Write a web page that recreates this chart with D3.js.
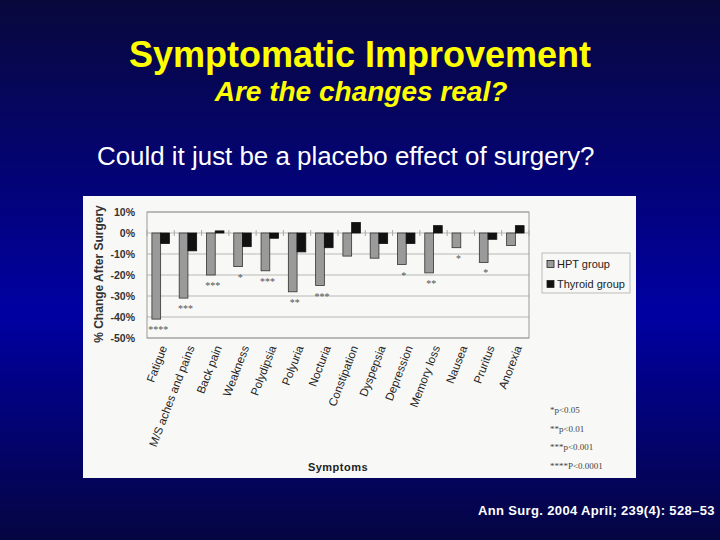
<!DOCTYPE html>
<html>
<head>
<meta charset="utf-8">
<script src="https://cdn.jsdelivr.net/npm/d3@7"></script>
<style>
  body { margin: 0; padding: 0; }
  svg { display: block; }
</style>
</head>
<body>
<div id="chart"></div>
<script>
// data
var categories = ["Fatigue", "M/S aches and pains", "Back pain", "Weakness", "Polydipsia",
    "Polyuria", "Nocturia", "Constipation", "Dyspepsia", "Depression", "Memory loss",
    "Nausea", "Pruritus", "Anorexia"];
var hptValues = [-41, -31, -20, -16, -18, -28, -25, -11, -12, -15, -19, -7, -14, -6];
var thyroidValues = [-5, -8.5, 1, -6.5, -2.5, -9, -7, 5, -5, -5, 3.5, 0, -3, 3.5];
var significance = ["****", "***", "***", "*", "***", "**", "***", "", "", "*", "**", "*", "*", ""];
var seriesNames = ["HPT group", "Thyroid group"];
var yTicks = [10, 0, -10, -20, -30, -40, -50];
var pNotes = ["*p<0.05", "**p<0.01", "***p<0.001", "****P<0.0001"];

function init() {
    var w = 720;
    var h = 540;

    var svg = d3.select("#chart")
        .append("svg")
        .attr("width", w)
        .attr("height", h);

    // slide background
    var defs = svg.append("defs");
    var grad = defs.append("linearGradient")
        .attr("id", "bg")
        .attr("x1", 0).attr("y1", 0).attr("x2", 0).attr("y2", 1);
    grad.append("stop").attr("offset", "0%").attr("stop-color", "#08083c");
    grad.append("stop").attr("offset", "58%").attr("stop-color", "#0000a2");
    grad.append("stop").attr("offset", "100%").attr("stop-color", "#050542");
    svg.append("rect")
        .attr("width", w).attr("height", h)
        .attr("fill", "url(#bg)");

    // headings
    svg.append("text")
        .text("Symptomatic Improvement")
        .attr("x", 360).attr("y", 67)
        .attr("text-anchor", "middle")
        .attr("font-family", "Liberation Sans, Arial, sans-serif")
        .attr("font-weight", "bold")
        .attr("font-size", 36)
        .attr("fill", "#ffff00");
    svg.append("text")
        .text("Are the changes real?")
        .attr("x", 361).attr("y", 101)
        .attr("text-anchor", "middle")
        .attr("font-family", "Liberation Sans, Arial, sans-serif")
        .attr("font-weight", "bold")
        .attr("font-style", "italic")
        .attr("font-size", 28)
        .attr("fill", "#ffff00");
    svg.append("text")
        .text("Could it just be a placebo effect of surgery?")
        .attr("x", 97).attr("y", 165)
        .attr("font-family", "Liberation Sans, Arial, sans-serif")
        .attr("font-size", 25.9)
        .attr("fill", "white");
    svg.append("text")
        .text("Ann Surg. 2004 April; 239(4): 528\u201353")
        .attr("x", 478).attr("y", 515)
        .attr("font-family", "Liberation Sans, Arial, sans-serif")
        .attr("font-weight", "bold")
        .attr("font-size", 13)
        .attr("letter-spacing", 0.35)
        .attr("fill", "white");

    // white chart panel
    svg.append("rect")
        .attr("x", 83).attr("y", 196)
        .attr("width", 553).attr("height", 282)
        .attr("fill", "#f8f8f6");

    var left = 147, right = 529, top = 212, bottom = 338;

    var x0 = d3.scaleBand()
        .domain(categories)
        .range([left, right])
        .paddingInner(0.36)
        .paddingOuter(0.18);
    var x1 = d3.scaleBand()
        .domain(seriesNames)
        .range([0, x0.bandwidth()]);
    var y = d3.scaleLinear()
        .domain([10, -50])
        .range([top, bottom]);

    // gridlines
    svg.selectAll("line.grid")
        .data(yTicks)
        .enter()
        .append("line")
        .attr("class", "grid")
        .attr("x1", left).attr("x2", right)
        .attr("y1", function (d) { return y(d); })
        .attr("y2", function (d) { return y(d); })
        .attr("stroke", "#b8b8b8")
        .attr("stroke-width", 1);
    svg.append("rect")
        .attr("x", left).attr("y", top)
        .attr("width", right - left).attr("height", bottom - top)
        .attr("fill", "none")
        .attr("stroke", "#999")
        .attr("stroke-width", 1);

    // category separators on the zero line
    var step = x0.step();
    svg.selectAll("line.sep")
        .data(d3.range(categories.length + 1))
        .enter()
        .append("line")
        .attr("class", "sep")
        .attr("x1", function (i) { return left + i * step; })
        .attr("x2", function (i) { return left + i * step; })
        .attr("y1", y(0) - 3)
        .attr("y2", y(0) + 3)
        .attr("stroke", "#aaa");

    // y axis
    var yAxis = svg.append("g")
        .attr("transform", "translate(" + (left - 9) + ",0)")
        .call(d3.axisLeft(y).tickValues(yTicks).tickSize(0).tickFormat(function (d) { return d + "%"; }));
    yAxis.select(".domain").remove();
    yAxis.selectAll("text")
        .attr("font-family", "Liberation Sans, Arial, sans-serif")
        .attr("font-weight", "bold")
        .attr("font-size", 10.5)
        .attr("fill", "#333");

    // bars
    var rows = categories.map(function (c, i) {
        return { cat: c, values: [hptValues[i], thyroidValues[i]], sig: significance[i] };
    });
    var groups = svg.selectAll("g.cat")
        .data(rows)
        .enter()
        .append("g")
        .attr("class", "cat")
        .attr("transform", function (d) { return "translate(" + x0(d.cat) + ",0)"; });
    groups.selectAll("rect")
        .data(function (d) {
            return d.values.map(function (v, j) { return { name: seriesNames[j], v: v }; });
        })
        .enter()
        .append("rect")
        .attr("x", function (d) { return x1(d.name); })
        .attr("y", function (d) { return y(Math.max(0, d.v)); })
        .attr("width", x1.bandwidth())
        .attr("height", function (d) { return Math.abs(y(d.v) - y(0)); })
        .attr("fill", function (d) { return d.name === "HPT group" ? "#9a9a9a" : "#111"; })
        .attr("stroke", function (d) { return d.name === "HPT group" ? "#333" : "#111"; })
        .attr("stroke-width", 0.8);

    // significance stars under the HPT bars
    groups.append("text")
        .text(function (d) { return d.sig; })
        .attr("x", x1("HPT group") + x1.bandwidth() / 2 + 2)
        .attr("y", function (d) { return y(d.values[0]) + 14; })
        .attr("text-anchor", "middle")
        .attr("font-family", "Liberation Serif, serif")
        .attr("font-size", 10)
        .attr("fill", "#555");

    // category labels
    svg.selectAll("text.cat")
        .data(categories)
        .enter()
        .append("text")
        .attr("class", "cat")
        .text(function (d) { return d; })
        .attr("transform", function (d) {
            return "translate(" + (x0(d) + x0.bandwidth() / 2 + 3) + ",346) rotate(-69)";
        })
        .attr("text-anchor", "end")
        .attr("dy", "0.35em")
        .attr("font-family", "Liberation Sans, Arial, sans-serif")
        .attr("font-size", 11.5)
        .attr("fill", "#222");

    // axis titles
    svg.append("text")
        .text("% Change After Surgery")
        .attr("transform", "translate(103,274) rotate(-90)")
        .attr("text-anchor", "middle")
        .attr("font-family", "Liberation Sans, Arial, sans-serif")
        .attr("font-weight", "bold")
        .attr("font-size", 12)
        .attr("fill", "#333");
    svg.append("text")
        .text("Symptoms")
        .attr("x", 338).attr("y", 471)
        .attr("text-anchor", "middle")
        .attr("font-family", "Liberation Sans, Arial, sans-serif")
        .attr("font-weight", "bold")
        .attr("font-size", 11)
        .attr("letter-spacing", 0.5)
        .attr("fill", "#222");

    // legend
    var legend = svg.append("g").attr("transform", "translate(542,253)");
    legend.append("rect")
        .attr("width", 88).attr("height", 40)
        .attr("fill", "none")
        .attr("stroke", "#bbb");
    var items = legend.selectAll("g.item")
        .data(seriesNames)
        .enter()
        .append("g")
        .attr("class", "item")
        .attr("transform", function (d, i) { return "translate(5," + (11 + i * 20) + ")"; });
    items.append("rect")
        .attr("x", 0).attr("y", -3.5)
        .attr("width", 7).attr("height", 7)
        .attr("fill", function (d, i) { return i === 0 ? "#9a9a9a" : "#111"; })
        .attr("stroke", "#222")
        .attr("stroke-width", 0.8);
    items.append("text")
        .text(function (d) { return d; })
        .attr("x", 10).attr("dy", "0.35em")
        .attr("font-family", "Liberation Sans, Arial, sans-serif")
        .attr("font-size", 11)
        .attr("fill", "#222");

    // p-value notes
    svg.selectAll("text.note")
        .data(pNotes)
        .enter()
        .append("text")
        .attr("class", "note")
        .text(function (d) { return d; })
        .attr("x", 550)
        .attr("y", function (d, i) { return 413 + i * 18.5; })
        .attr("font-family", "Liberation Serif, serif")
        .attr("font-size", 9)
        .attr("fill", "#444");
}
window.onload = init;
</script>
</body>
</html>
